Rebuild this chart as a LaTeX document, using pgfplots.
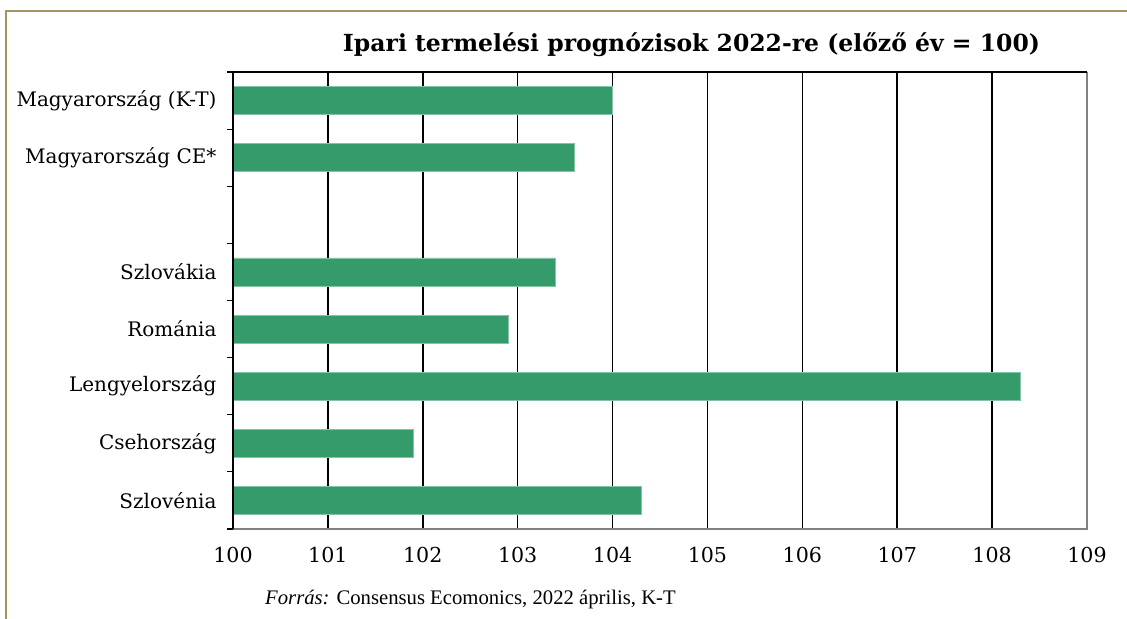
\documentclass[border=0pt]{standalone}
\usepackage{pgfplots}
\pgfplotsset{compat=1.18}
\usepackage{fontspec}
\setmainfont{DejaVu Serif}
\newfontfamily\labelfont{DejaVu Serif}
\newfontfamily\footfont{Liberation Serif}
\definecolor{barg}{RGB}{54,155,107}
\definecolor{frameol}{RGB}{160,150,100}
\begin{document}
\begin{tikzpicture}[x=1bp,y=1bp]
\useasboundingbox (0,0) rectangle (1127,619);
\draw[frameol, line width=2.5bp] (6,0) -- (6,608) -- (1127,608);
\begin{axis}[
  at={(233bp,90bp)}, anchor=south west,
  scale only axis, width=854bp, height=457bp,
  xmin=100, xmax=109, ymin=-0.5, ymax=7.5,
  y dir=reverse,
  xbar, bar width=0.49,
  xtick={100,...,109},
  xmajorgrids, major grid style={black, line width=1.5bp},
  ytick={0,1,3,4,5,6,7},
  yticklabels={Magyarország (K-T),Magyarország CE*,Szlovákia,Románia,Lengyelország,Csehország,Szlovénia},
  major tick length=0pt,
  minor ytick={-0.5,0.5,...,7.5},
  minor tick style={black, line width=1.2bp},
  minor tick length=6bp,
  tick align=outside,
  ytick pos=left, xtick pos=bottom,
  axis line style={draw=none},
  /pgf/number format/assume math mode=true,
  /pgf/number format/1000 sep={},
  xticklabel style={font=\labelfont\fontsize{20.6bp}{24bp}\selectfont, yshift=-15bp},
  yticklabel style={font=\labelfont\fontsize{20bp}{24bp}\selectfont, xshift=-13bp},
  clip=false,
]
\addplot[fill=barg, draw=barg!60!white, line width=0.6bp] coordinates {
 (104.0,0) (103.6,1) (103.4,3) (102.9,4) (108.3,5) (101.9,6) (104.3,7)
};
\draw[gray, line width=1.6bp] (rel axis cs:0,0) -- (rel axis cs:1,0) -- (rel axis cs:1,1);
\draw[black, line width=1.8bp] (rel axis cs:0,0) -- (rel axis cs:0,1) -- (rel axis cs:1,1);
\end{axis}
\node[anchor=base, font=\labelfont\bfseries\fontsize{23.5bp}{28bp}\selectfont] at (691.5,567) {Ipari termelési prognózisok 2022-re (előző év = 100)};
\node[anchor=base west, inner sep=0, font=\footfont\fontsize{20.7bp}{24bp}\selectfont] at (265,14) {\textit{Forrás:} Consensus Ecomonics, 2022 április, K-T};
\end{tikzpicture}
\end{document}
